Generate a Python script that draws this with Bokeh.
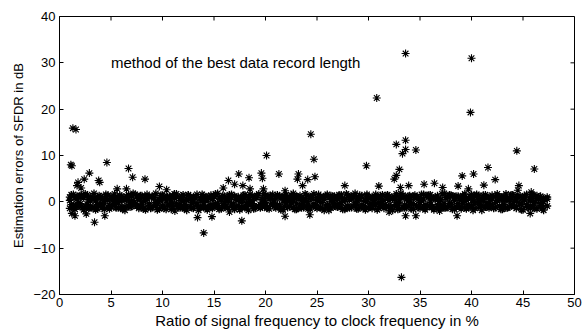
import math
from bokeh.plotting import figure
from bokeh.models import Range1d, FixedTicker, ColumnDataSource
from bokeh.core.properties import value
from bokeh.embed import file_html
from bokeh.resources import INLINE

# Dense band of estimation errors
band_x = [1.0, 1.35, 1.7, 2.0, 2.35, 2.7, 3.0, 3.35, 3.7, 4.0, 4.35, 4.7, 5.0, 5.35, 5.7, 6.0, 6.35, 6.7,
          7.0, 7.35, 7.7, 8.0, 8.35, 8.7, 9.0, 9.35, 9.7, 10.0, 10.35, 10.7, 11.0, 11.35, 11.7, 12.0, 12.35, 12.7,
          13.0, 13.35, 13.7, 14.0, 14.35, 14.7, 15.0, 15.35, 15.7, 16.0, 16.35, 16.7, 17.0, 17.35, 17.7,
          18.0, 18.35, 18.7, 19.0, 19.35, 19.7, 20.0, 20.35, 20.7, 21.0, 21.35, 21.7, 22.0, 22.35, 22.7,
          23.0, 23.35, 23.7, 24.0, 24.35, 24.7, 25.0, 25.35, 25.7, 26.0, 26.35, 26.7, 27.0, 27.35, 27.7,
          28.0, 28.35, 28.7, 29.0, 29.35, 29.7, 30.0, 30.35, 30.7, 31.0, 31.35, 31.7, 32.0, 32.35, 32.7,
          33.0, 33.35, 33.7, 34.0, 34.35, 34.7, 35.0, 35.35, 35.7, 36.0, 36.35, 36.7, 37.0, 37.35, 37.7,
          38.0, 38.35, 38.7, 39.0, 39.35, 39.7, 40.0, 40.35, 40.7, 41.0, 41.35, 41.7, 42.0, 42.35, 42.7,
          43.0, 43.35, 43.7, 44.0, 44.35, 44.7, 45.0, 45.35, 45.7, 46.0, 46.35, 46.7, 47.0, 47.35]
band_a = [0.3, -0.8, 1.2, -0.4, 0.9, -1.1, 0.2, 0.7, -0.6, 1.0,
          -0.3, 0.5, -0.9, 0.8, -0.2, 0.4, -1.0, 0.6, 0.1, -0.7,
          0.9, -0.5, 0.3, -0.8, 1.1, -0.1, 0.6, -0.9, 0.2, 0.8,
          -0.4, 1.0, -0.6, 0.3, -1.0, 0.7, 0.0, -0.5, 0.9, -0.2,
          0.5, -0.8, 1.2, -0.3, 0.6, -0.7, 0.2, 0.9, -1.1, 0.4,
          -0.1, 0.8, -0.6, 0.3, 1.0, -0.9, 0.5, -0.2, 0.7, -0.4,
          1.1, -0.7, 0.2, 0.6, -1.0, 0.4, -0.3, 0.9, -0.5, 0.1,
          0.8, -0.8, 0.3, -0.1, 1.0, -0.6, 0.5, -0.9, 0.7, -0.2,
          0.4, -1.1, 0.9, -0.3, 0.6, -0.7, 0.1, 0.8, -0.5, 1.1,
          -0.2, 0.5, -0.9, 0.3, 0.7, -0.6, 0.0, 1.0, -0.8, 0.4,
          -0.4, 0.9, -0.1, 0.6, -1.0, 0.2, 0.8, -0.7, 0.5, -0.3,
          1.0, -0.5, 0.3, -0.9, 0.7, 0.1, -0.6, 0.9, -0.2, 0.4,
          -0.8, 1.1, -0.4, 0.6, -0.1, 0.8, -1.0, 0.3, 0.5, -0.7,
          0.2, -0.3, 0.9, -0.6, 0.4, -0.2, 0.7, -0.9, 0.1, 0.6]
band_b = [-1.4, 1.6, -0.9, 1.3, -1.7, 1.5, -1.2, 1.8, -1.5, 1.1,
          -1.6, 1.4, -1.1, 1.7, -1.3, 1.2, -1.8, 1.5, -1.0, 1.6,
          -1.4, 1.3, -1.7, 1.1, -1.2, 1.8, -1.5, 1.4, -1.6, 1.2,
          -1.1, 1.7, -1.3, 1.5, -1.8, 1.0, -1.4, 1.6, -1.2, 1.3,
          -1.7, 1.4, -1.0, 1.8, -1.5, 1.2, -1.3, 1.6, -1.6, 1.1,
          -1.2, 1.5, -1.8, 1.3, -1.4, 1.7, -1.1, 1.4, -1.5, 1.6,
          -1.3, 1.2, -1.7, 1.5, -1.0, 1.8, -1.6, 1.3, -1.2, 1.4,
          -1.5, 1.7, -1.4, 1.1, -1.8, 1.6, -1.3, 1.2, -1.1, 1.5,
          -1.6, 1.4, -1.2, 1.8, -1.5, 1.3, -1.7, 1.0, -1.4, 1.6,
          -1.3, 1.5, -1.1, 1.2, -1.8, 1.7, -1.5, 1.4, -1.2, 1.3,
          -1.6, 1.1, -1.4, 1.6, -1.0, 1.5, -1.7, 1.3, -1.3, 1.8,
          -1.2, 1.4, -1.6, 1.2, -1.5, 1.7, -1.1, 1.6, -1.4, 1.3,
          -1.8, 1.5, -1.3, 1.4, -1.2, 1.1, -1.6, 1.7, -1.0, 1.5,
          -1.4, 1.2, -1.7, 1.6, -1.3, 1.4, -1.5, 1.2, -1.8, 1.0]
band_c = [1.0, -1.3, 0.6, -1.0, 1.3, -0.5, 0.8, -1.2, 1.1, -0.7,
          0.5, -1.1, 1.2, -0.6, 0.9, -1.3, 0.4, -0.9, 1.3, -0.4,
          0.7, -1.2, 1.0, -0.5, 1.2, -0.8, 0.3, -1.1, 0.9, -0.6,
          1.3, -0.4, 0.8, -1.3, 0.5, -1.0, 1.1, -0.7, 0.6, -1.2,
          1.0, -0.6, 1.3, -0.9, 0.4, -1.1, 0.7, -0.5, 1.2, -0.8,
          0.6, -1.3, 0.9, -0.4, 1.1, -1.0, 0.5, -0.8, 1.3, -0.6,
          0.8, -1.1, 1.0, -0.3, 0.7, -1.2, 1.2, -0.7, 0.4, -1.0,
          1.1, -0.5, 0.9, -1.3, 0.6, -0.8, 1.3, -0.4, 1.0, -1.2,
          0.5, -0.9, 1.2, -0.6, 0.8, -1.1, 0.3, -1.3, 1.1, -0.7,
          0.9, -0.4, 1.3, -1.0, 0.6, -0.8, 1.0, -1.2, 0.7, -0.5,
          1.2, -0.9, 0.4, -1.1, 1.3, -0.6, 0.8, -1.0, 0.5, -1.3,
          1.0, -0.7, 1.1, -0.4, 0.9, -1.2, 0.6, -0.8, 1.3, -0.5,
          0.7, -1.1, 1.0, -0.6, 1.2, -0.9, 0.4, -1.3, 0.8, -0.7,
          1.1, -0.5, 0.9, -1.0, 0.6, -1.2, 1.3, -0.4, 0.7, -0.9]

band_x2 = [1.15, 1.5, 1.85, 2.15, 2.5, 2.85, 3.15, 3.5, 3.85, 4.15, 4.5, 4.85, 5.15, 5.5, 5.85,
           6.15, 6.5, 6.85, 7.15, 7.5, 7.85, 8.15, 8.5, 8.85, 9.15, 9.5, 9.85, 10.15, 10.5, 10.85,
           11.15, 11.5, 11.85, 12.15, 12.5, 12.85, 13.15, 13.5, 13.85, 14.15, 14.5, 14.85, 15.15, 15.5, 15.85,
           16.15, 16.5, 16.85, 17.15, 17.5, 17.85, 18.15, 18.5, 18.85, 19.15, 19.5, 19.85, 20.15, 20.5, 20.85,
           21.15, 21.5, 21.85, 22.15, 22.5, 22.85, 23.15, 23.5, 23.85, 24.15, 24.5, 24.85, 25.15, 25.5, 25.85,
           26.15, 26.5, 26.85, 27.15, 27.5, 27.85, 28.15, 28.5, 28.85, 29.15, 29.5, 29.85, 30.15, 30.5, 30.85,
           31.15, 31.5, 31.85, 32.15, 32.5, 32.85, 33.15, 33.5, 33.85, 34.15, 34.5, 34.85, 35.15, 35.5, 35.85,
           36.15, 36.5, 36.85, 37.15, 37.5, 37.85, 38.15, 38.5, 38.85, 39.15, 39.5, 39.85, 40.15, 40.5, 40.85,
           41.15, 41.5, 41.85, 42.15, 42.5, 42.85, 43.15, 43.5, 43.85, 44.15, 44.5, 44.85, 45.15, 45.5, 45.85,
           46.15, 46.5, 46.85]
band_d = [-0.6, 0.9, -0.2, 1.4, -1.0, 0.5, -1.3, 0.2, 0.8, -0.4,
          1.2, -0.8, 0.4, -0.1, 1.0, -1.2, 0.6, -0.5, 0.3, 1.3,
          -0.9, 0.1, 0.7, -1.4, 0.9, -0.3, 0.5, 1.1, -0.7, 0.0,
          0.8, -1.1, 0.3, -0.6, 1.4, -0.2, 0.9, -1.0, 0.4, 0.6,
          -1.3, 0.7, -0.4, 1.0, -0.8, 0.2, 1.2, -0.5, 0.6, -1.1,
          0.9, -0.3, 0.1, -0.9, 1.3, -0.6, 0.4, -1.2, 0.8, 0.2,
          -0.7, 1.1, -1.0, 0.5, -0.2, 0.9, -1.4, 0.3, 0.7, -0.5,
          1.0, -0.8, 0.6, -0.1, 1.2, -1.1, 0.2, 0.8, -0.6, 0.4,
          -1.2, 0.5, 1.1, -0.3, 0.7, -0.9, 1.3, -0.4, 0.0, 0.9,
          -1.0, 0.3, 0.6, -1.3, 0.8, -0.2, 1.0, -0.7, 0.5, -0.5,
          1.4, -0.9, 0.2, -0.6, 1.1, -1.2, 0.7, 0.1, -0.8, 0.9,
          -0.4, 1.2, -1.1, 0.6, -0.3, 0.8, -1.0, 0.4, 1.3, -0.7,
          0.5, -0.2, 0.9, -1.3, 0.3, 1.0, -0.6, 0.7, -0.9, 0.2,
          1.1, -0.5, 0.4, -1.1, 0.8, -0.1, 0.6, -0.8]
band_e = [1.5, -1.6, 1.1, -1.0, 1.7, -1.4, 0.9, -1.7, 1.3, -1.2,
          1.6, -1.5, 0.8, -1.3, 1.4, -1.6, 1.2, -1.1, 1.8, -0.9,
          1.3, -1.5, 1.6, -1.2, 0.9, -1.7, 1.4, -1.4, 1.1, -1.6,
          1.7, -1.0, 1.2, -1.5, 1.5, -1.3, 0.8, -1.8, 1.6, -1.1,
          1.1, -1.4, 1.7, -1.6, 1.3, -0.9, 1.5, -1.2, 1.0, -1.7,
          1.4, -1.1, 1.6, -1.5, 0.9, -1.3, 1.8, -1.4, 1.2, -1.0,
          1.5, -1.7, 1.1, -1.2, 1.4, -1.6, 1.0, -1.3, 1.7, -1.5,
          0.9, -1.1, 1.6, -1.4, 1.3, -1.8, 1.2, -1.0, 1.5, -1.6,
          1.7, -1.3, 1.0, -1.5, 1.4, -1.2, 1.6, -1.1, 0.8, -1.7,
          1.3, -1.4, 1.5, -1.0, 1.1, -1.6, 1.8, -1.3, 1.2, -1.5,
          1.0, -1.2, 1.6, -1.7, 1.4, -1.1, 0.9, -1.4, 1.7, -1.3,
          1.5, -1.6, 1.2, -1.0, 1.3, -1.5, 1.1, -1.8, 1.6, -1.2,
          1.4, -1.1, 0.9, -1.4, 1.7, -1.6, 1.2, -1.3, 1.5, -1.0,
          1.1, -1.7, 1.3, -1.2, 1.6, -1.4, 1.0, -1.5]

# Scattered larger errors
out_x = [1.3, 1.6, 1.1, 1.2, 4.6, 6.7, 7.1, 8.3, 2.9, 3.8, 2.4, 1.8, 1.7, 2.1, 3.4, 1.5, 4.4, 5.6, 6.5,
         9.7, 10.4, 11.2, 1.2, 2.6, 3.9,
         17.4, 16.4, 18.4, 19.6, 19.7, 21.3, 23.2, 23.1, 24.8, 24.1, 29.8, 31.0, 17.0, 17.8, 15.9,
         19.8, 18.5, 21.9, 23.6, 27.7,
         14.0, 13.4, 14.8, 17.7, 21.9, 24.3, 16.5,
         20.1, 24.4, 24.7, 30.8,
         33.6, 40.0, 39.9, 32.7, 33.6, 33.6, 33.3, 34.6, 44.4, 33.0, 41.6, 46.1, 32.7, 32.5, 33.1,
         33.9, 35.4, 36.4, 37.2, 39.1, 40.2, 38.7, 39.7, 41.2, 42.3, 44.6, 44.5, 45.8,
         33.2, 33.6, 34.6, 36.9, 38.6, 45.7, 32.0]
out_y = [15.9, 15.6, 8.0, 7.8, 8.5, 7.2, 5.3, 4.9, 6.2, 4.6, 4.9, 4.2, 3.5, 3.0, -4.4, -3.0, -3.0, 2.8, 2.8,
         3.3, 2.6, -2.0, -2.5, -2.6, 4.2,
         6.0, 4.6, 5.2, 6.2, 5.1, 6.0, 6.0, 4.9, 5.4, 4.8, 7.8, 3.4, 3.8, 3.5, 3.0,
         2.8, 2.8, 2.4, 3.5, 3.5,
         -6.7, -3.4, -3.2, -4.1, -3.1, -2.8, -2.2,
         10.0, 14.6, 9.2, 22.4,
         32.0, 31.0, 19.3, 12.4, 13.3, 11.3, 10.4, 11.2, 11.0, 7.0, 7.4, 7.1, 5.7, 4.9, 3.1,
         3.5, 3.8, 4.0, 3.1, 5.6, 6.0, 3.4, 2.8, 3.6, 4.8, 3.5, 2.5, 2.1,
         -16.3, -3.0, -3.0, -2.0, -3.0, -2.5, -2.2]

x_ticks = [0, 5, 10, 15, 20, 25, 30, 35, 40, 45, 50]
y_ticks = [-20, -10, 0, 10, 20, 30, 40]

FONT = "Liberation Sans"

p = figure(width=585, height=331, output_backend="svg", toolbar_location=None,
           x_range=Range1d(x_ticks[0], x_ticks[-1]), y_range=Range1d(y_ticks[0], y_ticks[-1]),
           min_border_left=59, min_border_right=11, min_border_top=16, min_border_bottom=37)
p.grid.visible = False
p.outline_line_color = "black"
p.outline_line_width = 1
p.background_fill_color = "white"
p.border_fill_color = "white"

for ax, ticks in ((p.xaxis[0], x_ticks), (p.yaxis[0], y_ticks)):
    ax.ticker = FixedTicker(ticks=ticks)
    ax.major_tick_in = 4
    ax.major_tick_out = 0
    ax.minor_tick_line_color = None
    ax.axis_line_color = "black"
    ax.major_tick_line_color = "black"
    ax.major_label_text_font = FONT
    ax.major_label_text_font_size = "13px"
    ax.major_label_text_color = "black"
    ax.axis_label_text_font = FONT
    ax.axis_label_text_font_style = "normal"
    ax.axis_label_text_color = "black"

p.xaxis.axis_label = "Ratio of signal frequency to clock frequency in %"
p.yaxis.axis_label = "Estimation errors of SFDR in dB"
p.xaxis.axis_label_text_font_size = "15px"
p.yaxis.axis_label_text_font_size = "13px"
p.xaxis.major_label_standoff = 3
p.yaxis.major_label_standoff = 4
p.xaxis.axis_label_standoff = 2
p.yaxis.axis_label_standoff = 4

# Inward ticks on the top and right edges of the box (MATLAB style)
p.ray(x=x_ticks, y=[y_ticks[-1]] * len(x_ticks), length=4, length_units="screen",
      angle=-math.pi / 2, line_color="black", line_width=1)
p.ray(x=[x_ticks[-1]] * len(y_ticks), y=y_ticks, length=4, length_units="screen",
      angle=math.pi, line_color="black", line_width=1)

for xs, ys in ((band_x, band_a), (band_x, band_b), (band_x, band_c), (band_x2, band_d), (band_x2, band_e)):
    p.scatter(x=xs, y=ys, marker="asterisk", size=8, line_color="black", line_width=1.3)
p.scatter(x=out_x, y=out_y, marker="asterisk", size=8, line_color="black", line_width=1.1)

lbl = ColumnDataSource(dict(x=[5.0], y=[30.0], t=["method of the best data record length"]))
p.text(x="x", y="y", text="t", source=lbl, text_font=value(FONT), text_font_size="15px",
       text_baseline="middle", text_align="left", text_color="black")

open("out.html", "w").write(file_html(p, INLINE))
